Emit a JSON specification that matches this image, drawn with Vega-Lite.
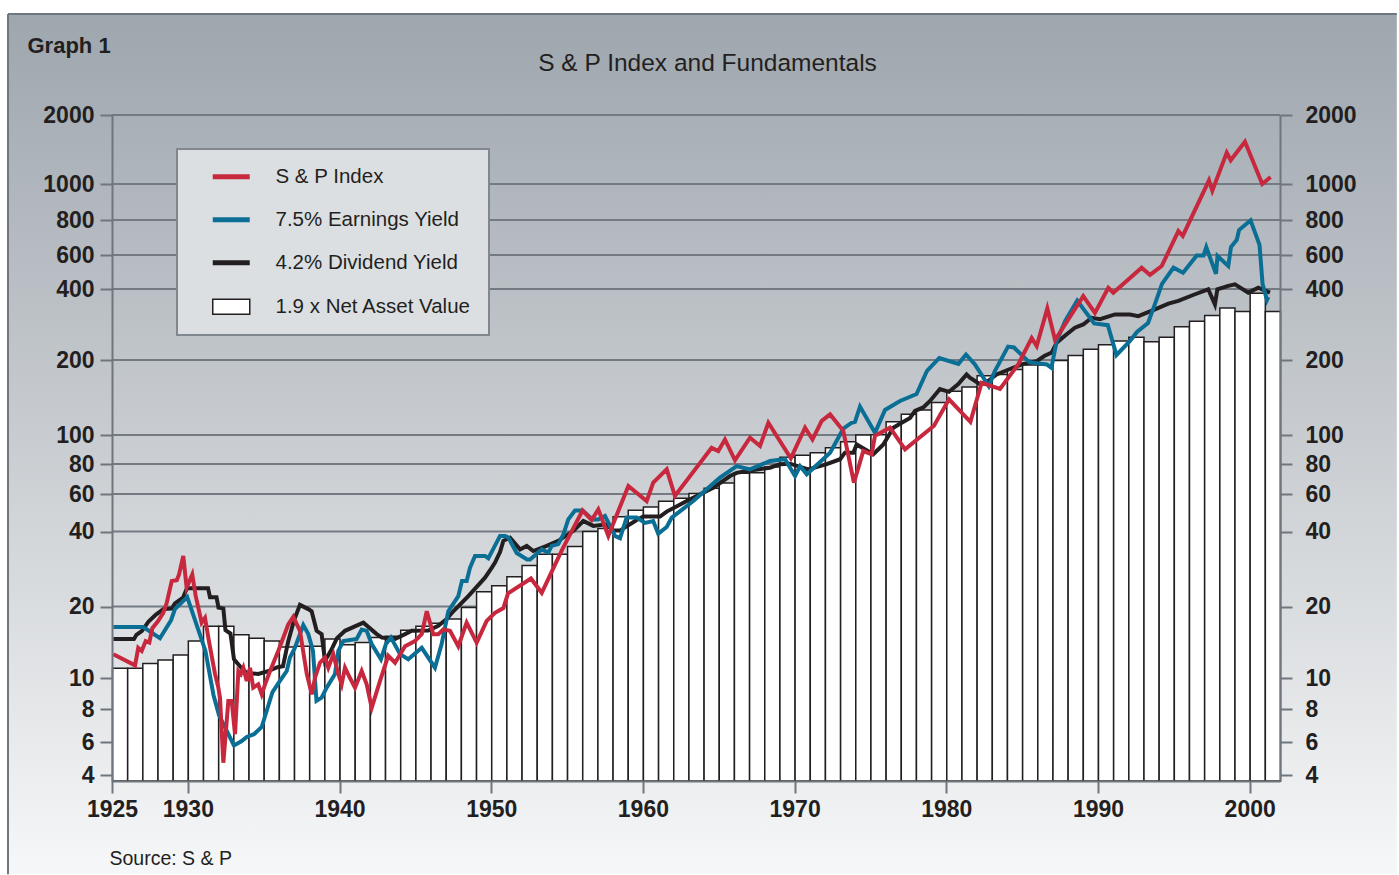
{
"$schema": "https://vega.github.io/schema/vega-lite/v6.json",
"width": 1168,
"height": 666,
"padding": {"left": 7, "top": 12, "right": 0, "bottom": 0},
"background": "#ffffff",
"config": {
  "view": {"stroke": null, "fill": null},
  "axis": {"domainColor": "#6f767d", "domainWidth": 2, "tickColor": "#6f767d", "tickWidth": 2, "tickSize": 12,
           "labelFont": "Liberation Sans", "labelFontWeight": "bold", "labelFontSize": 23, "labelColor": "#231f20",
           "grid": false, "labelOverlap": false, "labelFlush": false, "titleFont": "Liberation Sans", "titleColor": "#231f20"}
},
"datasets": {
  "grid": [{"tick": 2000},{"tick": 1000},{"tick": 800},{"tick": 600},{"tick": 400},{"tick": 200},{"tick": 100},{"tick": 80},{"tick": 60},{"tick": 40},{"tick": 20},{"tick": 10},{"tick": 8},{"tick": 6},{"tick": 4}],
  "nav": [
    {"year":1925,"nav":11.0},{"year":1926,"nav":11.0},{"year":1927,"nav":11.5},{"year":1928,"nav":11.9},{"year":1929,"nav":12.5},
    {"year":1930,"nav":14.3},{"year":1931,"nav":16.5},{"year":1932,"nav":16.5},{"year":1933,"nav":15.2},{"year":1934,"nav":14.7},
    {"year":1935,"nav":14.3},{"year":1936,"nav":13.5},{"year":1937,"nav":13.6},{"year":1938,"nav":13.6},{"year":1939,"nav":14.6},
    {"year":1940,"nav":13.8},{"year":1941,"nav":14.1},{"year":1942,"nav":14.8},{"year":1943,"nav":15.0},{"year":1944,"nav":15.9},
    {"year":1945,"nav":16.5},{"year":1946,"nav":17.0},{"year":1947,"nav":17.7},{"year":1948,"nav":19.8},{"year":1949,"nav":22.9},
    {"year":1950,"nav":24.2},{"year":1951,"nav":26.3},{"year":1952,"nav":29.2},{"year":1953,"nav":32.4},{"year":1954,"nav":32.4},
    {"year":1955,"nav":34.8},{"year":1956,"nav":40.0},{"year":1957,"nav":41.3},{"year":1958,"nav":46.9},{"year":1959,"nav":50.3},
    {"year":1960,"nav":52.1},{"year":1961,"nav":55.5},{"year":1962,"nav":57.3},{"year":1963,"nav":60.3},{"year":1964,"nav":63.4},
    {"year":1965,"nav":66.7},{"year":1966,"nav":73.2},{"year":1967,"nav":73.5},{"year":1968,"nav":77.7},{"year":1969,"nav":84.2},
    {"year":1970,"nav":85.5},{"year":1971,"nav":87.3},{"year":1972,"nav":90.6},{"year":1973,"nav":95.0},{"year":1974,"nav":100},
    {"year":1975,"nav":100.2},{"year":1976,"nav":113},{"year":1977,"nav":121},{"year":1978,"nav":126},{"year":1979,"nav":135},
    {"year":1980,"nav":150},{"year":1981,"nav":156},{"year":1982,"nav":173},{"year":1983,"nav":175},{"year":1984,"nav":183},
    {"year":1985,"nav":191},{"year":1986,"nav":191},{"year":1987,"nav":199},{"year":1988,"nav":209},{"year":1989,"nav":222},
    {"year":1990,"nav":232},{"year":1991,"nav":241},{"year":1992,"nav":250},{"year":1993,"nav":239},{"year":1994,"nav":250},
    {"year":1995,"nav":277},{"year":1996,"nav":292},{"year":1997,"nav":309},{"year":1998,"nav":332},{"year":1999,"nav":321},
    {"year":2000,"nav":384},{"year":2001,"nav":321}
  ],
  "lines": [
    {"series":"4.2% Dividend Yield","year":1925.09,"value":14.6},
    {"series":"4.2% Dividend Yield","year":1926.45,"value":14.6},
    {"series":"4.2% Dividend Yield","year":1926.61,"value":15.2},
    {"series":"4.2% Dividend Yield","year":1926.98,"value":15.8},
    {"series":"4.2% Dividend Yield","year":1927.41,"value":17.3},
    {"series":"4.2% Dividend Yield","year":1927.90,"value":18.5},
    {"series":"4.2% Dividend Yield","year":1928.38,"value":19.5},
    {"series":"4.2% Dividend Yield","year":1928.94,"value":19.6},
    {"series":"4.2% Dividend Yield","year":1929.15,"value":20.6},
    {"series":"4.2% Dividend Yield","year":1929.68,"value":21.7},
    {"series":"4.2% Dividend Yield","year":1929.94,"value":23.7},
    {"series":"4.2% Dividend Yield","year":1931.33,"value":23.7},
    {"series":"4.2% Dividend Yield","year":1931.46,"value":21.8},
    {"series":"4.2% Dividend Yield","year":1931.89,"value":21.8},
    {"series":"4.2% Dividend Yield","year":1932.02,"value":19.8},
    {"series":"4.2% Dividend Yield","year":1932.34,"value":19.6},
    {"series":"4.2% Dividend Yield","year":1932.48,"value":15.9},
    {"series":"4.2% Dividend Yield","year":1932.81,"value":15.4},
    {"series":"4.2% Dividend Yield","year":1933.04,"value":12.0},
    {"series":"4.2% Dividend Yield","year":1933.44,"value":11.2},
    {"series":"4.2% Dividend Yield","year":1933.88,"value":10.5},
    {"series":"4.2% Dividend Yield","year":1934.64,"value":10.4},
    {"series":"4.2% Dividend Yield","year":1935.22,"value":10.65},
    {"series":"4.2% Dividend Yield","year":1935.91,"value":11.1},
    {"series":"4.2% Dividend Yield","year":1936.27,"value":11.2},
    {"series":"4.2% Dividend Yield","year":1936.62,"value":14.3},
    {"series":"4.2% Dividend Yield","year":1936.99,"value":17.4},
    {"series":"4.2% Dividend Yield","year":1937.39,"value":20.3},
    {"series":"4.2% Dividend Yield","year":1937.94,"value":19.5},
    {"series":"4.2% Dividend Yield","year":1938.16,"value":19.1},
    {"series":"4.2% Dividend Yield","year":1938.49,"value":15.8},
    {"series":"4.2% Dividend Yield","year":1938.82,"value":15.3},
    {"series":"4.2% Dividend Yield","year":1939.04,"value":11.8},
    {"series":"4.2% Dividend Yield","year":1939.48,"value":13.2},
    {"series":"4.2% Dividend Yield","year":1939.83,"value":14.7},
    {"series":"4.2% Dividend Yield","year":1940.36,"value":15.8},
    {"series":"4.2% Dividend Yield","year":1941.57,"value":17.1},
    {"series":"4.2% Dividend Yield","year":1942.45,"value":15.3},
    {"series":"4.2% Dividend Yield","year":1942.80,"value":14.8},
    {"series":"4.2% Dividend Yield","year":1943.66,"value":14.6},
    {"series":"4.2% Dividend Yield","year":1944.32,"value":15.3},
    {"series":"4.2% Dividend Yield","year":1944.76,"value":15.8},
    {"series":"4.2% Dividend Yield","year":1945.85,"value":15.85},
    {"series":"4.2% Dividend Yield","year":1946.51,"value":16.6},
    {"series":"4.2% Dividend Yield","year":1947.06,"value":17.7},
    {"series":"4.2% Dividend Yield","year":1947.50,"value":19.1},
    {"series":"4.2% Dividend Yield","year":1948.49,"value":22.0},
    {"series":"4.2% Dividend Yield","year":1949.59,"value":26.1},
    {"series":"4.2% Dividend Yield","year":1950.03,"value":28.6},
    {"series":"4.2% Dividend Yield","year":1950.25,"value":30.0},
    {"series":"4.2% Dividend Yield","year":1950.58,"value":33.1},
    {"series":"4.2% Dividend Yield","year":1950.80,"value":36.7},
    {"series":"4.2% Dividend Yield","year":1951.24,"value":37.8},
    {"series":"4.2% Dividend Yield","year":1951.90,"value":33.9},
    {"series":"4.2% Dividend Yield","year":1952.34,"value":35.0},
    {"series":"4.2% Dividend Yield","year":1952.77,"value":33.4},
    {"series":"4.2% Dividend Yield","year":1953.66,"value":35.0},
    {"series":"4.2% Dividend Yield","year":1954.42,"value":36.7},
    {"series":"4.2% Dividend Yield","year":1955.41,"value":40.2},
    {"series":"4.2% Dividend Yield","year":1956.07,"value":44.8},
    {"series":"4.2% Dividend Yield","year":1956.73,"value":42.5},
    {"series":"4.2% Dividend Yield","year":1957.61,"value":43.2},
    {"series":"4.2% Dividend Yield","year":1958.05,"value":40.4},
    {"series":"4.2% Dividend Yield","year":1958.49,"value":40.4},
    {"series":"4.2% Dividend Yield","year":1959.59,"value":45.3},
    {"series":"4.2% Dividend Yield","year":1960.03,"value":47.0},
    {"series":"4.2% Dividend Yield","year":1961.13,"value":47.0},
    {"series":"4.2% Dividend Yield","year":1961.57,"value":49.6},
    {"series":"4.2% Dividend Yield","year":1962.89,"value":55.6},
    {"series":"4.2% Dividend Yield","year":1963.77,"value":59.8},
    {"series":"4.2% Dividend Yield","year":1964.64,"value":63.7},
    {"series":"4.2% Dividend Yield","year":1965.74,"value":71.3},
    {"series":"4.2% Dividend Yield","year":1966.18,"value":73.5},
    {"series":"4.2% Dividend Yield","year":1967.06,"value":75.2},
    {"series":"4.2% Dividend Yield","year":1968.38,"value":77.2},
    {"series":"4.2% Dividend Yield","year":1969.04,"value":79.9},
    {"series":"4.2% Dividend Yield","year":1969.70,"value":80.2},
    {"series":"4.2% Dividend Yield","year":1970.90,"value":76.0},
    {"series":"4.2% Dividend Yield","year":1972.12,"value":79.9},
    {"series":"4.2% Dividend Yield","year":1973.00,"value":83.0},
    {"series":"4.2% Dividend Yield","year":1973.32,"value":87.3},
    {"series":"4.2% Dividend Yield","year":1973.87,"value":87.3},
    {"series":"4.2% Dividend Yield","year":1974.09,"value":93.0},
    {"series":"4.2% Dividend Yield","year":1975.19,"value":86.2},
    {"series":"4.2% Dividend Yield","year":1975.85,"value":93.0},
    {"series":"4.2% Dividend Yield","year":1976.51,"value":107},
    {"series":"4.2% Dividend Yield","year":1977.06,"value":112},
    {"series":"4.2% Dividend Yield","year":1977.61,"value":117},
    {"series":"4.2% Dividend Yield","year":1977.94,"value":125},
    {"series":"4.2% Dividend Yield","year":1978.48,"value":129},
    {"series":"4.2% Dividend Yield","year":1978.93,"value":137},
    {"series":"4.2% Dividend Yield","year":1979.58,"value":153},
    {"series":"4.2% Dividend Yield","year":1980.18,"value":149},
    {"series":"4.2% Dividend Yield","year":1980.79,"value":160},
    {"series":"4.2% Dividend Yield","year":1981.34,"value":175},
    {"series":"4.2% Dividend Yield","year":1981.56,"value":170},
    {"series":"4.2% Dividend Yield","year":1982.22,"value":160},
    {"series":"4.2% Dividend Yield","year":1982.77,"value":165},
    {"series":"4.2% Dividend Yield","year":1983.32,"value":175},
    {"series":"4.2% Dividend Yield","year":1984.20,"value":184},
    {"series":"4.2% Dividend Yield","year":1984.97,"value":192},
    {"series":"4.2% Dividend Yield","year":1985.96,"value":198},
    {"series":"4.2% Dividend Yield","year":1986.46,"value":208},
    {"series":"4.2% Dividend Yield","year":1986.95,"value":215},
    {"series":"4.2% Dividend Yield","year":1987.28,"value":237},
    {"series":"4.2% Dividend Yield","year":1987.94,"value":257},
    {"series":"4.2% Dividend Yield","year":1988.48,"value":274},
    {"series":"4.2% Dividend Yield","year":1989.03,"value":283},
    {"series":"4.2% Dividend Yield","year":1989.58,"value":302},
    {"series":"4.2% Dividend Yield","year":1990.13,"value":298},
    {"series":"4.2% Dividend Yield","year":1991.12,"value":312},
    {"series":"4.2% Dividend Yield","year":1992.11,"value":312},
    {"series":"4.2% Dividend Yield","year":1992.66,"value":307},
    {"series":"4.2% Dividend Yield","year":1993.76,"value":328},
    {"series":"4.2% Dividend Yield","year":1994.64,"value":347},
    {"series":"4.2% Dividend Yield","year":1995.30,"value":356},
    {"series":"4.2% Dividend Yield","year":1996.40,"value":380},
    {"series":"4.2% Dividend Yield","year":1997.27,"value":399},
    {"series":"4.2% Dividend Yield","year":1997.71,"value":344},
    {"series":"4.2% Dividend Yield","year":1997.87,"value":399},
    {"series":"4.2% Dividend Yield","year":1998.59,"value":415},
    {"series":"4.2% Dividend Yield","year":1999.03,"value":423},
    {"series":"4.2% Dividend Yield","year":1999.91,"value":386},
    {"series":"4.2% Dividend Yield","year":2000.57,"value":406},
    {"series":"4.2% Dividend Yield","year":2001.34,"value":386},

    {"series":"7.5% Earnings Yield","year":1925.09,"value":16.4},
    {"series":"7.5% Earnings Yield","year":1927.06,"value":16.4},
    {"series":"7.5% Earnings Yield","year":1928.16,"value":14.7},
    {"series":"7.5% Earnings Yield","year":1928.89,"value":17.5},
    {"series":"7.5% Earnings Yield","year":1929.15,"value":19.5},
    {"series":"7.5% Earnings Yield","year":1929.96,"value":21.8},
    {"series":"7.5% Earnings Yield","year":1931.16,"value":13.0},
    {"series":"7.5% Earnings Yield","year":1931.69,"value":8.85},
    {"series":"7.5% Earnings Yield","year":1932.05,"value":7.59},
    {"series":"7.5% Earnings Yield","year":1933.04,"value":5.75},
    {"series":"7.5% Earnings Yield","year":1933.55,"value":6.05},
    {"series":"7.5% Earnings Yield","year":1933.88,"value":6.27},
    {"series":"7.5% Earnings Yield","year":1934.36,"value":6.42},
    {"series":"7.5% Earnings Yield","year":1934.87,"value":6.84},
    {"series":"7.5% Earnings Yield","year":1935.58,"value":9.04},
    {"series":"7.5% Earnings Yield","year":1936.07,"value":9.79},
    {"series":"7.5% Earnings Yield","year":1936.52,"value":10.7},
    {"series":"7.5% Earnings Yield","year":1936.73,"value":12.2},
    {"series":"7.5% Earnings Yield","year":1937.06,"value":13.4},
    {"series":"7.5% Earnings Yield","year":1937.61,"value":16.7},
    {"series":"7.5% Earnings Yield","year":1937.94,"value":15.3},
    {"series":"7.5% Earnings Yield","year":1938.25,"value":13.0},
    {"series":"7.5% Earnings Yield","year":1938.48,"value":8.48},
    {"series":"7.5% Earnings Yield","year":1938.82,"value":8.68},
    {"series":"7.5% Earnings Yield","year":1939.15,"value":9.33},
    {"series":"7.5% Earnings Yield","year":1939.70,"value":10.4},
    {"series":"7.5% Earnings Yield","year":1939.92,"value":13.0},
    {"series":"7.5% Earnings Yield","year":1940.25,"value":14.3},
    {"series":"7.5% Earnings Yield","year":1941.13,"value":14.6},
    {"series":"7.5% Earnings Yield","year":1941.46,"value":16.0},
    {"series":"7.5% Earnings Yield","year":1941.79,"value":15.8},
    {"series":"7.5% Earnings Yield","year":1942.12,"value":13.9},
    {"series":"7.5% Earnings Yield","year":1942.73,"value":12.0},
    {"series":"7.5% Earnings Yield","year":1943.06,"value":13.9},
    {"series":"7.5% Earnings Yield","year":1943.39,"value":14.8},
    {"series":"7.5% Earnings Yield","year":1943.99,"value":12.6},
    {"series":"7.5% Earnings Yield","year":1944.53,"value":12.0},
    {"series":"7.5% Earnings Yield","year":1945.42,"value":13.4},
    {"series":"7.5% Earnings Yield","year":1946.29,"value":11.05},
    {"series":"7.5% Earnings Yield","year":1946.73,"value":13.9},
    {"series":"7.5% Earnings Yield","year":1947.17,"value":19.1},
    {"series":"7.5% Earnings Yield","year":1947.83,"value":22.0},
    {"series":"7.5% Earnings Yield","year":1948.07,"value":25.3},
    {"series":"7.5% Earnings Yield","year":1948.38,"value":25.3},
    {"series":"7.5% Earnings Yield","year":1948.60,"value":28.6},
    {"series":"7.5% Earnings Yield","year":1948.93,"value":31.9},
    {"series":"7.5% Earnings Yield","year":1949.59,"value":31.9},
    {"series":"7.5% Earnings Yield","year":1949.81,"value":31.2},
    {"series":"7.5% Earnings Yield","year":1950.58,"value":38.4},
    {"series":"7.5% Earnings Yield","year":1950.91,"value":38.4},
    {"series":"7.5% Earnings Yield","year":1951.13,"value":37.8},
    {"series":"7.5% Earnings Yield","year":1951.68,"value":32.8},
    {"series":"7.5% Earnings Yield","year":1952.36,"value":30.9},
    {"series":"7.5% Earnings Yield","year":1952.56,"value":30.9},
    {"series":"7.5% Earnings Yield","year":1953.33,"value":33.9},
    {"series":"7.5% Earnings Yield","year":1953.76,"value":32.9},
    {"series":"7.5% Earnings Yield","year":1953.99,"value":35.0},
    {"series":"7.5% Earnings Yield","year":1954.42,"value":35.6},
    {"series":"7.5% Earnings Yield","year":1954.75,"value":38.8},
    {"series":"7.5% Earnings Yield","year":1955.08,"value":45.6},
    {"series":"7.5% Earnings Yield","year":1955.52,"value":50.2},
    {"series":"7.5% Earnings Yield","year":1956.02,"value":50.2},
    {"series":"7.5% Earnings Yield","year":1956.68,"value":45.6},
    {"series":"7.5% Earnings Yield","year":1957.06,"value":45.6},
    {"series":"7.5% Earnings Yield","year":1957.50,"value":47.3},
    {"series":"7.5% Earnings Yield","year":1958.16,"value":38.4},
    {"series":"7.5% Earnings Yield","year":1958.49,"value":37.6},
    {"series":"7.5% Earnings Yield","year":1958.93,"value":46.5},
    {"series":"7.5% Earnings Yield","year":1959.59,"value":46.5},
    {"series":"7.5% Earnings Yield","year":1960.14,"value":43.9},
    {"series":"7.5% Earnings Yield","year":1960.68,"value":44.8},
    {"series":"7.5% Earnings Yield","year":1961.01,"value":39.2},
    {"series":"7.5% Earnings Yield","year":1961.57,"value":42.0},
    {"series":"7.5% Earnings Yield","year":1961.90,"value":46.5},
    {"series":"7.5% Earnings Yield","year":1963.32,"value":55.6},
    {"series":"7.5% Earnings Yield","year":1965.08,"value":70.2},
    {"series":"7.5% Earnings Yield","year":1966.18,"value":78.4},
    {"series":"7.5% Earnings Yield","year":1967.06,"value":76.0},
    {"series":"7.5% Earnings Yield","year":1968.38,"value":81.9},
    {"series":"7.5% Earnings Yield","year":1969.37,"value":83.0},
    {"series":"7.5% Earnings Yield","year":1970.03,"value":71.3},
    {"series":"7.5% Earnings Yield","year":1970.36,"value":78.4},
    {"series":"7.5% Earnings Yield","year":1970.80,"value":72.5},
    {"series":"7.5% Earnings Yield","year":1972.34,"value":87.3},
    {"series":"7.5% Earnings Yield","year":1973.21,"value":106},
    {"series":"7.5% Earnings Yield","year":1973.76,"value":112},
    {"series":"7.5% Earnings Yield","year":1973.98,"value":113},
    {"series":"7.5% Earnings Yield","year":1974.31,"value":130},
    {"series":"7.5% Earnings Yield","year":1975.30,"value":102},
    {"series":"7.5% Earnings Yield","year":1975.96,"value":126},
    {"series":"7.5% Earnings Yield","year":1976.95,"value":137},
    {"series":"7.5% Earnings Yield","year":1978.04,"value":146},
    {"series":"7.5% Earnings Yield","year":1978.73,"value":181},
    {"series":"7.5% Earnings Yield","year":1979.54,"value":204},
    {"series":"7.5% Earnings Yield","year":1980.80,"value":193},
    {"series":"7.5% Earnings Yield","year":1981.30,"value":211},
    {"series":"7.5% Earnings Yield","year":1981.89,"value":192},
    {"series":"7.5% Earnings Yield","year":1982.80,"value":157},
    {"series":"7.5% Earnings Yield","year":1983.21,"value":181},
    {"series":"7.5% Earnings Yield","year":1984.07,"value":228},
    {"series":"7.5% Earnings Yield","year":1984.46,"value":226},
    {"series":"7.5% Earnings Yield","year":1985.47,"value":196},
    {"series":"7.5% Earnings Yield","year":1986.62,"value":192},
    {"series":"7.5% Earnings Yield","year":1986.93,"value":186},
    {"series":"7.5% Earnings Yield","year":1987.28,"value":241},
    {"series":"7.5% Earnings Yield","year":1987.84,"value":293},
    {"series":"7.5% Earnings Yield","year":1988.63,"value":357},
    {"series":"7.5% Earnings Yield","year":1989.75,"value":286},
    {"series":"7.5% Earnings Yield","year":1990.65,"value":281},
    {"series":"7.5% Earnings Yield","year":1991.22,"value":210},
    {"series":"7.5% Earnings Yield","year":1992.11,"value":241},
    {"series":"7.5% Earnings Yield","year":1992.57,"value":263},
    {"series":"7.5% Earnings Yield","year":1993.30,"value":287},
    {"series":"7.5% Earnings Yield","year":1993.76,"value":346},
    {"series":"7.5% Earnings Yield","year":1994.22,"value":425},
    {"series":"7.5% Earnings Yield","year":1994.98,"value":516},
    {"series":"7.5% Earnings Yield","year":1995.61,"value":486},
    {"series":"7.5% Earnings Yield","year":1996.51,"value":597},
    {"series":"7.5% Earnings Yield","year":1996.96,"value":597},
    {"series":"7.5% Earnings Yield","year":1997.14,"value":640},
    {"series":"7.5% Earnings Yield","year":1997.78,"value":479},
    {"series":"7.5% Earnings Yield","year":1997.88,"value":593},
    {"series":"7.5% Earnings Yield","year":1998.59,"value":526},
    {"series":"7.5% Earnings Yield","year":1998.77,"value":641},
    {"series":"7.5% Earnings Yield","year":1999.15,"value":680},
    {"series":"7.5% Earnings Yield","year":1999.30,"value":737},
    {"series":"7.5% Earnings Yield","year":2000.06,"value":798},
    {"series":"7.5% Earnings Yield","year":2000.65,"value":652},
    {"series":"7.5% Earnings Yield","year":2000.85,"value":425},
    {"series":"7.5% Earnings Yield","year":2001.14,"value":359},
    {"series":"7.5% Earnings Yield","year":2001.23,"value":370},

    {"series":"S & P Index","year":1925.09,"value":12.6},
    {"series":"S & P Index","year":1926.52,"value":11.3},
    {"series":"S & P Index","year":1926.73,"value":13.4},
    {"series":"S & P Index","year":1926.96,"value":13.0},
    {"series":"S & P Index","year":1927.22,"value":14.3},
    {"series":"S & P Index","year":1927.46,"value":14.1},
    {"series":"S & P Index","year":1927.66,"value":16.2},
    {"series":"S & P Index","year":1928.05,"value":17.4},
    {"series":"S & P Index","year":1928.38,"value":18.8},
    {"series":"S & P Index","year":1928.61,"value":20.7},
    {"series":"S & P Index","year":1928.94,"value":25.3},
    {"series":"S & P Index","year":1929.27,"value":25.5},
    {"series":"S & P Index","year":1929.42,"value":26.9},
    {"series":"S & P Index","year":1929.70,"value":31.9},
    {"series":"S & P Index","year":1929.92,"value":23.8},
    {"series":"S & P Index","year":1930.29,"value":26.9},
    {"series":"S & P Index","year":1930.52,"value":22.0},
    {"series":"S & P Index","year":1930.91,"value":17.1},
    {"series":"S & P Index","year":1931.13,"value":17.9},
    {"series":"S & P Index","year":1931.39,"value":14.3},
    {"series":"S & P Index","year":1931.79,"value":10.4},
    {"series":"S & P Index","year":1932.01,"value":9.33},
    {"series":"S & P Index","year":1932.12,"value":8.68},
    {"series":"S & P Index","year":1932.34,"value":4.65},
    {"series":"S & P Index","year":1932.67,"value":8.48},
    {"series":"S & P Index","year":1932.89,"value":8.48},
    {"series":"S & P Index","year":1933.11,"value":6.42},
    {"series":"S & P Index","year":1933.33,"value":10.7},
    {"series":"S & P Index","year":1933.50,"value":10.4},
    {"series":"S & P Index","year":1933.66,"value":11.05},
    {"series":"S & P Index","year":1933.88,"value":9.79},
    {"series":"S & P Index","year":1934.10,"value":11.05},
    {"series":"S & P Index","year":1934.31,"value":9.33},
    {"series":"S & P Index","year":1934.64,"value":9.55},
    {"series":"S & P Index","year":1934.87,"value":8.89},
    {"series":"S & P Index","year":1935.09,"value":9.55},
    {"series":"S & P Index","year":1935.42,"value":10.7},
    {"series":"S & P Index","year":1935.96,"value":13.0},
    {"series":"S & P Index","year":1936.62,"value":16.8},
    {"series":"S & P Index","year":1936.95,"value":18.1},
    {"series":"S & P Index","year":1937.39,"value":15.8},
    {"series":"S & P Index","year":1937.84,"value":10.4},
    {"series":"S & P Index","year":1938.17,"value":8.89},
    {"series":"S & P Index","year":1938.38,"value":10.0},
    {"series":"S & P Index","year":1938.71,"value":11.6},
    {"series":"S & P Index","year":1939.04,"value":12.2},
    {"series":"S & P Index","year":1939.26,"value":11.05},
    {"series":"S & P Index","year":1939.59,"value":12.6},
    {"series":"S & P Index","year":1939.92,"value":10.4},
    {"series":"S & P Index","year":1940.14,"value":9.55},
    {"series":"S & P Index","year":1940.36,"value":11.05},
    {"series":"S & P Index","year":1940.69,"value":10.0},
    {"series":"S & P Index","year":1941.02,"value":9.33},
    {"series":"S & P Index","year":1941.46,"value":10.7},
    {"series":"S & P Index","year":1941.79,"value":9.55},
    {"series":"S & P Index","year":1942.12,"value":8.07},
    {"series":"S & P Index","year":1942.67,"value":9.79},
    {"series":"S & P Index","year":1943.21,"value":12.4},
    {"series":"S & P Index","year":1943.66,"value":11.6},
    {"series":"S & P Index","year":1944.32,"value":13.6},
    {"series":"S & P Index","year":1944.97,"value":14.3},
    {"series":"S & P Index","year":1945.42,"value":15.3},
    {"series":"S & P Index","year":1945.75,"value":19.1},
    {"series":"S & P Index","year":1946.18,"value":15.3},
    {"series":"S & P Index","year":1946.51,"value":15.3},
    {"series":"S & P Index","year":1946.84,"value":16.0},
    {"series":"S & P Index","year":1947.28,"value":15.8},
    {"series":"S & P Index","year":1947.83,"value":13.6},
    {"series":"S & P Index","year":1948.38,"value":17.1},
    {"series":"S & P Index","year":1949.04,"value":14.1},
    {"series":"S & P Index","year":1949.70,"value":17.4},
    {"series":"S & P Index","year":1950.25,"value":18.8},
    {"series":"S & P Index","year":1950.80,"value":19.7},
    {"series":"S & P Index","year":1951.11,"value":22.6},
    {"series":"S & P Index","year":1952.62,"value":25.9},
    {"series":"S & P Index","year":1953.33,"value":22.7},
    {"series":"S & P Index","year":1954.66,"value":33.7},
    {"series":"S & P Index","year":1956.02,"value":50.2},
    {"series":"S & P Index","year":1956.62,"value":45.3},
    {"series":"S & P Index","year":1957.06,"value":50.8},
    {"series":"S & P Index","year":1957.72,"value":38.4},
    {"series":"S & P Index","year":1959.04,"value":64.8},
    {"series":"S & P Index","year":1960.25,"value":55.6},
    {"series":"S & P Index","year":1960.68,"value":66.9},
    {"series":"S & P Index","year":1961.57,"value":76.0},
    {"series":"S & P Index","year":1962.11,"value":58.7},
    {"series":"S & P Index","year":1964.53,"value":90.6},
    {"series":"S & P Index","year":1964.97,"value":88.4},
    {"series":"S & P Index","year":1965.41,"value":96.6},
    {"series":"S & P Index","year":1966.07,"value":82.3},
    {"series":"S & P Index","year":1967.06,"value":98.0},
    {"series":"S & P Index","year":1967.72,"value":91.9},
    {"series":"S & P Index","year":1968.27,"value":112},
    {"series":"S & P Index","year":1969.75,"value":83.5},
    {"series":"S & P Index","year":1970.69,"value":107},
    {"series":"S & P Index","year":1971.18,"value":96.6},
    {"series":"S & P Index","year":1971.79,"value":114},
    {"series":"S & P Index","year":1972.34,"value":121},
    {"series":"S & P Index","year":1973.21,"value":104},
    {"series":"S & P Index","year":1973.91,"value":66.9},
    {"series":"S & P Index","year":1974.53,"value":88.4},
    {"series":"S & P Index","year":1975.08,"value":86.2},
    {"series":"S & P Index","year":1975.30,"value":99.4},
    {"series":"S & P Index","year":1976.29,"value":107},
    {"series":"S & P Index","year":1977.28,"value":89.5},
    {"series":"S & P Index","year":1979.19,"value":109},
    {"series":"S & P Index","year":1980.18,"value":139},
    {"series":"S & P Index","year":1981.59,"value":113},
    {"series":"S & P Index","year":1982.33,"value":162},
    {"series":"S & P Index","year":1983.54,"value":153},
    {"series":"S & P Index","year":1984.74,"value":192},
    {"series":"S & P Index","year":1985.63,"value":248},
    {"series":"S & P Index","year":1985.96,"value":229},
    {"series":"S & P Index","year":1986.66,"value":331},
    {"series":"S & P Index","year":1987.17,"value":243},
    {"series":"S & P Index","year":1989.03,"value":373},
    {"series":"S & P Index","year":1989.80,"value":317},
    {"series":"S & P Index","year":1990.68,"value":406},
    {"series":"S & P Index","year":1991.01,"value":386},
    {"series":"S & P Index","year":1992.88,"value":516},
    {"series":"S & P Index","year":1993.43,"value":473},
    {"series":"S & P Index","year":1994.20,"value":526},
    {"series":"S & P Index","year":1995.30,"value":730},
    {"series":"S & P Index","year":1995.59,"value":702},
    {"series":"S & P Index","year":1997.32,"value":1038},
    {"series":"S & P Index","year":1997.54,"value":959},
    {"series":"S & P Index","year":1998.49,"value":1370},
    {"series":"S & P Index","year":1998.75,"value":1269},
    {"series":"S & P Index","year":1999.69,"value":1530},
    {"series":"S & P Index","year":2000.83,"value":1000},
    {"series":"S & P Index","year":2001.38,"value":1073}
  ]
},
"layer": [
  {
    "data": {"values": [{}]},
    "mark": {"type": "rect", "fill": {"gradient": "linear", "x1": 0, "y1": 0, "x2": 0, "y2": 1,
             "stops": [{"offset": 0, "color": "#9ea6ae"}, {"offset": 0.5, "color": "#c9cdd1"}, {"offset": 1, "color": "#f6f7f8"}]},
             "strokeWidth": 0},
    "encoding": {
      "x": {"datum": 1918.144, "type": "quantitative", "scale": {"domain": [1925, 2002], "nice": false, "zero": false}, "axis": null},
      "x2": {"datum": 2009.7},
      "y": {"datum": 5518, "type": "quantitative", "scale": {"type": "log", "domain": [3.7,4,6,8,10,20,40,60,80,100,200,400,600,800,1000,2000], "range": [666,660,627,594,563,491.5,416.5,379,349,320,245,174,140,105,69,0], "nice": false, "zero": false}, "axis": null},
      "y2": {"datum": 1.1}
    }
  },
  {
    "data": {"values": [{}]},
    "mark": {"type": "rule", "stroke": "#6f767d", "strokeWidth": 2},
    "encoding": {
      "x": {"datum": 1918.144, "type": "quantitative", "scale": {"domain": [1925, 2002], "nice": false, "zero": false}, "axis": null},
      "x2": {"datum": 2009.7},
      "y": {"datum": 5518, "type": "quantitative", "scale": {"type": "log", "domain": [3.7,4,6,8,10,20,40,60,80,100,200,400,600,800,1000,2000], "range": [666,660,627,594,563,491.5,416.5,379,349,320,245,174,140,105,69,0], "nice": false, "zero": false}, "axis": null}
    }
  },
  {
    "data": {"values": [{}]},
    "mark": {"type": "rule", "stroke": "#6f767d", "strokeWidth": 2},
    "encoding": {
      "x": {"datum": 1918.144, "type": "quantitative", "scale": {"domain": [1925, 2002], "nice": false, "zero": false}, "axis": null},
      "y": {"datum": 5518, "type": "quantitative", "scale": {"type": "log", "domain": [3.7,4,6,8,10,20,40,60,80,100,200,400,600,800,1000,2000], "range": [666,660,627,594,563,491.5,416.5,379,349,320,245,174,140,105,69,0], "nice": false, "zero": false}, "axis": null},
      "y2": {"datum": 1.1}
    }
  },
  {
    "data": {"name": "grid"},
    "mark": {"type": "rule", "stroke": "#737a81", "strokeWidth": 2},
    "encoding": {
      "y": {"field": "tick", "type": "quantitative", "scale": {"type": "log", "domain": [3.7,4,6,8,10,20,40,60,80,100,200,400,600,800,1000,2000], "range": [666,660,627,594,563,491.5,416.5,379,349,320,245,174,140,105,69,0], "nice": false, "zero": false}, "axis": null}
    }
  },
  {
    "data": {"name": "nav"},
    "mark": {"type": "bar", "fill": "#ffffff", "stroke": "#231f20", "strokeWidth": 1.5, "binSpacing": 0},
    "encoding": {
      "x": {"field": "year", "type": "quantitative", "bin": {"step": 1, "extent": [1925, 2002]}, "scale": {"domain": [1925, 2002], "nice": false, "zero": false}, "axis": null},
      "y": {"field": "nav", "type": "quantitative", "scale": {"type": "log", "domain": [3.7,4,6,8,10,20,40,60,80,100,200,400,600,800,1000,2000], "range": [666,660,627,594,563,491.5,416.5,379,349,320,245,174,140,105,69,0], "nice": false, "zero": false},
            "axis": {"orient": "left", "zindex": 2, "values": [4,6,8,10,20,40,60,80,100,200,400,600,800,1000,2000], "format": "d", "labelPadding": 6,
                     "title": "Graph 1", "titleX": -85, "titleY": -63, "titleAlign": "left", "titleAngle": 0, "titleBaseline": "alphabetic",
                     "titleFontSize": 22, "titleFontWeight": "bold"}},
      "y2": {"datum": 3.7}
    }
  },
  {
    "data": {"name": "lines"},
    "mark": {"type": "line", "strokeWidth": 4},
    "encoding": {
      "x": {"field": "year", "type": "quantitative", "scale": {"domain": [1925, 2002], "nice": false, "zero": false},
            "axis": {"orient": "bottom", "zindex": 2, "values": [1925,1930,1940,1950,1960,1970,1980,1990,2000], "format": "d", "labelPadding": 5,
                     "title": "Source: S & P", "titleX": -3, "titleY": 83, "titleAlign": "left", "titleAngle": 0, "titleBaseline": "alphabetic",
                     "titleFontSize": 19.5, "titleFontWeight": "normal"}},
      "y": {"field": "value", "type": "quantitative", "scale": {"type": "log", "domain": [3.7,4,6,8,10,20,40,60,80,100,200,400,600,800,1000,2000], "range": [666,660,627,594,563,491.5,416.5,379,349,320,245,174,140,105,69,0], "nice": false, "zero": false},
            "axis": {"orient": "right", "zindex": 2, "values": [4,6,8,10,20,40,60,80,100,200,400,600,800,1000,2000], "format": "d", "labelPadding": 13,
                     "title": "S & P Index and Fundamentals", "titleX": -573, "titleY": -45, "titleAlign": "center", "titleAngle": 0, "titleBaseline": "alphabetic",
                     "titleFontSize": 24.5, "titleFontWeight": "normal"}},
      "stroke": {"field": "series", "type": "nominal",
                 "scale": {"domain": ["S & P Index", "7.5% Earnings Yield", "4.2% Dividend Yield", "1.9 x Net Asset Value"],
                           "range": ["#c8283e", "#0b6f95", "#231f20", "#231f20"]},
                 "legend": {"orient": "none", "legendX": 65, "legendY": 34, "title": null, "padding": 17.5,
                            "fillColor": "#dcdfe2", "strokeColor": "#80878e", "cornerRadius": 0,
                            "symbolSize": 256, "symbolStrokeWidth": 5, "symbolOffset": 26.5, "labelOffset": 34, "rowPadding": 22,
                            "labelFont": "Liberation Sans", "labelFontSize": 20.5, "labelColor": "#231f20", "labelLimit": 400,
                            "symbolType": "M-2.3125,0H2.3125",
                            "encode": {
                              "symbols": {"update": {
                                "shape": {"signal": "datum.value === '1.9 x Net Asset Value' ? 'M-2.3125,-0.9375H2.3125V0.9375H-2.3125Z' : 'M-2.3125,0H2.3125'"},
                                "fill": {"signal": "datum.value === '1.9 x Net Asset Value' ? '#ffffff' : 'transparent'"},
                                "strokeWidth": {"signal": "datum.value === '1.9 x Net Asset Value' ? 1.5 : 5"},
                                "opacity": {"value": 1}
                              }},
                              "legend": {"update": {"strokeWidth": {"value": 2}}}
                            }}}
    }
  }
],
"resolve": {"axis": {"x": "independent", "y": "independent"}}
}
